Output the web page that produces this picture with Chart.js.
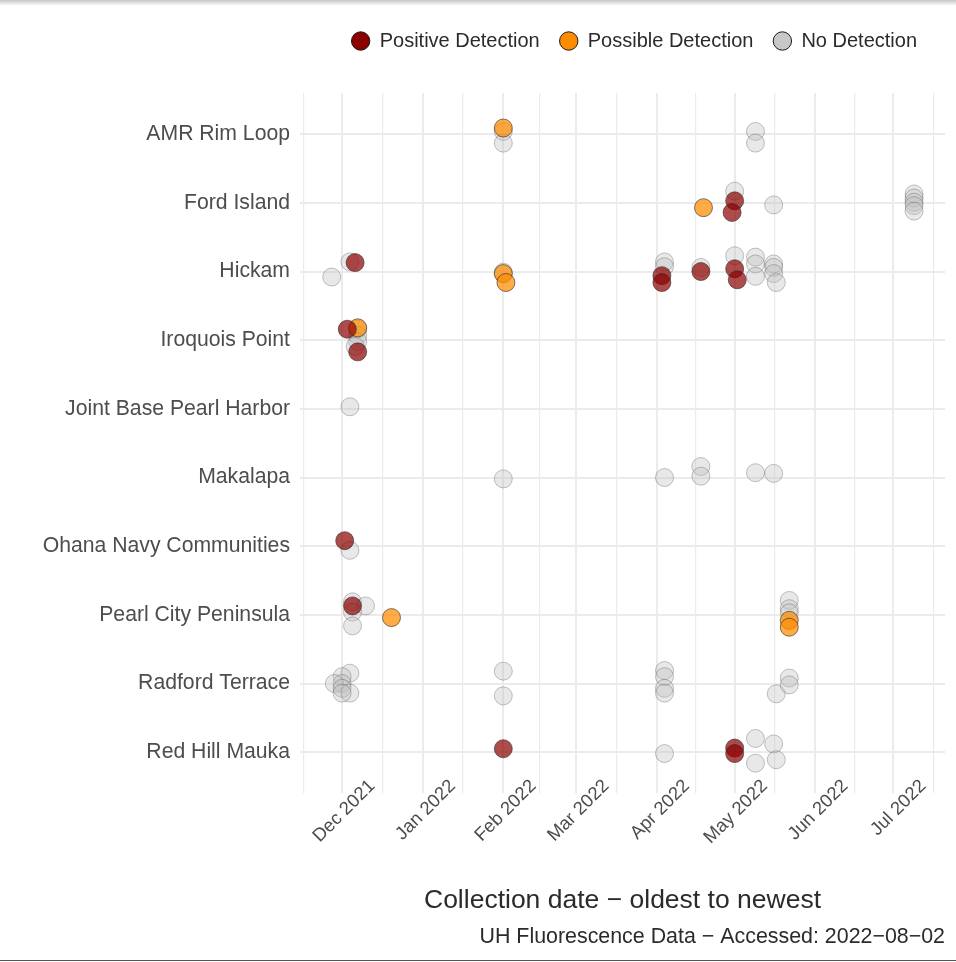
<!DOCTYPE html>
<html>
<head>
<meta charset="utf-8">
<script src="https://cdn.jsdelivr.net/npm/chart.js@4.4.0/dist/chart.umd.min.js"></script>
<style>
html, body { margin: 0; padding: 0; background: #fff; }
#wrap { position: relative; width: 956px; height: 962px; }
#shade { position: absolute; left: 0; top: 0; width: 956px; height: 6px; background: linear-gradient(rgba(0,0,0,0.22), rgba(0,0,0,0)); }
#edge { position: absolute; left: 0; top: 960px; width: 956px; height: 1px; background: #555; }
</style>
</head>
<body>
<div id="wrap">
  <canvas id="chart" width="956" height="962"></canvas>
  <div id="shade"></div>
  <div id="edge"></div>
</div>
<script>
// sites, top to bottom
var sites = ['AMR Rim Loop', 'Ford Island', 'Hickam', 'Iroquois Point', 'Joint Base Pearl Harbor',
             'Makalapa', 'Ohana Navy Communities', 'Pearl City Peninsula', 'Radford Terrace', 'Red Hill Mauka'];

// month breaks on the date axis
var monthStarts = ['2021-11-01', '2021-12-01', '2022-01-01', '2022-02-01', '2022-03-01', '2022-04-01',
                   '2022-05-01', '2022-06-01', '2022-07-01', '2022-08-01'];
var monthLabels = ['Nov 2021', 'Dec 2021', 'Jan 2022', 'Feb 2022', 'Mar 2022', 'Apr 2022',
                   'May 2022', 'Jun 2022', 'Jul 2022', 'Aug 2022'];

// samples: [collection date, site index, vertical jitter]
var positive = [
  ['2021-12-06', 2, -0.13], ['2021-12-03', 3, -0.16], ['2021-12-07', 3, 0.17],
  ['2022-04-03', 2, 0.06], ['2022-04-03', 2, 0.16], ['2022-04-18', 2, 0.0],
  ['2022-05-01', 2, -0.04], ['2022-05-02', 2, 0.12], ['2022-05-01', 1, -0.03],
  ['2022-04-30', 1, 0.14], ['2021-12-02', 6, -0.08], ['2021-12-05', 7, -0.13],
  ['2022-02-01', 9, -0.05], ['2022-05-01', 9, -0.06], ['2022-05-01', 9, 0.02]
];
var possible = [
  ['2022-02-01', 0, -0.09], ['2022-04-19', 1, 0.07], ['2022-02-01', 2, 0.03],
  ['2022-02-02', 2, 0.16], ['2021-12-07', 3, -0.18], ['2021-12-20', 7, 0.04],
  ['2022-05-22', 7, 0.08], ['2022-05-22', 7, 0.18]
];
var noDetection = [
  ['2022-02-01', 0, -0.04], ['2022-02-01', 0, 0.13], ['2022-05-09', 0, -0.04], ['2022-05-09', 0, 0.13],
  ['2022-05-01', 1, -0.17], ['2022-05-16', 1, 0.03], ['2022-07-09', 1, -0.13], ['2022-07-09', 1, -0.07],
  ['2022-07-09', 1, -0.01], ['2022-07-09', 1, 0.04], ['2022-07-09', 1, 0.12],
  ['2021-12-04', 2, -0.14], ['2021-11-27', 2, 0.08], ['2022-02-01', 2, 0.01], ['2022-04-04', 2, -0.14],
  ['2022-04-04', 2, -0.07], ['2022-04-18', 2, -0.06], ['2022-05-01', 2, -0.23], ['2022-05-09', 2, -0.21],
  ['2022-05-09', 2, -0.11], ['2022-05-09', 2, 0.07], ['2022-05-16', 2, -0.11], ['2022-05-16', 2, -0.06],
  ['2022-05-16', 2, 0.03], ['2022-05-17', 2, 0.16],
  ['2021-12-07', 3, -0.16], ['2021-12-07', 3, -0.07], ['2021-12-07', 3, 0.02], ['2021-12-06', 3, 0.09],
  ['2021-12-04', 4, -0.03],
  ['2022-02-01', 5, 0.02], ['2022-04-04', 5, 0.0], ['2022-04-18', 5, -0.16], ['2022-04-18', 5, -0.02],
  ['2022-05-09', 5, -0.07], ['2022-05-16', 5, -0.06],
  ['2021-12-04', 6, 0.06],
  ['2021-12-05', 7, -0.19], ['2021-12-10', 7, -0.13], ['2021-12-05', 7, -0.04], ['2021-12-05', 7, 0.16],
  ['2022-05-22', 7, -0.21], ['2022-05-22', 7, -0.09], ['2022-05-22', 7, -0.03],
  ['2021-12-04', 8, -0.15], ['2021-12-01', 8, -0.10], ['2021-12-01', 8, 0.0], ['2021-11-28', 8, 0.0],
  ['2021-12-01', 8, 0.07], ['2021-12-04', 8, 0.14], ['2021-12-01', 8, 0.14], ['2022-02-01', 8, -0.18],
  ['2022-02-01', 8, 0.18], ['2022-04-04', 8, -0.19], ['2022-04-04', 8, -0.10], ['2022-04-04', 8, 0.07],
  ['2022-04-04', 8, 0.14], ['2022-05-17', 8, 0.15], ['2022-05-22', 8, -0.08], ['2022-05-22', 8, 0.02],
  ['2022-04-04', 9, 0.02], ['2022-05-09', 9, -0.2], ['2022-05-09', 9, 0.16], ['2022-05-16', 9, -0.12],
  ['2022-05-17', 9, 0.11]
];

var base = Date.UTC(2021, 11, 1);
function dayOf(s) {
  var p = s.split('-');
  return (Date.UTC(+p[0], p[1] - 1, +p[2]) - base) / 86400000;
}
function toPoints(rows) {
  return rows.map(function (r) { return { x: dayOf(r[0]), y: r[1] + r[2] }; });
}

var xMin = -16.2, xMax = 231.9;
var majorDays = monthStarts.map(dayOf);
var xTicks = [];
for (var i = 0; i < majorDays.length; i++) {
  xTicks.push({ value: majorDays[i], label: monthLabels[i] });
  if (i < majorDays.length - 1) xTicks.push({ value: (majorDays[i] + majorDays[i + 1]) / 2, label: '' });
}
xTicks = xTicks.filter(function (t) { return t.value >= xMin && t.value <= xMax; });

var legendColors = ['#8B0000', '#FF8C00', '#C8C8C8'];
var LEGEND_RIGHT = 937, LEGEND_EXTRA = 32;

var legendPlace = {
  id: 'legendPlace',
  beforeInit: function (chart) {
    var lg = chart.legend, fit = lg.fit;
    lg.fit = function () { fit.call(lg); this.height += LEGEND_EXTRA; };
  },
  afterLayout: function (chart) {
    chart.legend.right = LEGEND_RIGHT;
  },
  beforeDraw: function (chart) {
    // let the rotated month labels start a little above the panel edge
    chart.scales.x._computeLabelArea = function () { return null; };
  }
};

var ctx = document.getElementById('chart').getContext('2d');
var chart = new Chart(ctx, {
  type: 'scatter',
  data: {
    datasets: [
      { label: 'Positive Detection', data: toPoints(positive),
        backgroundColor: 'rgba(139,0,0,0.7)', borderColor: 'rgba(40,40,40,0.6)' },
      { label: 'Possible Detection', data: toPoints(possible),
        backgroundColor: 'rgba(255,140,0,0.72)', borderColor: 'rgba(40,40,40,0.6)' },
      { label: 'No Detection', data: toPoints(noDetection),
        backgroundColor: 'rgba(190,190,190,0.35)', borderColor: 'rgba(60,60,60,0.3)' }
    ]
  },
  options: {
    responsive: false,
    animation: false,
    devicePixelRatio: 1,
    layout: { padding: { top: 11, right: 11, bottom: 8, left: 0 } },
    elements: { point: { radius: 9, hoverRadius: 9, borderWidth: 1 } },
    scales: {
      x: {
        type: 'linear',
        min: xMin,
        max: xMax,
        afterBuildTicks: function (scale) { scale.ticks = xTicks.map(function (t) { return { value: t.value }; }); },
        ticks: {
          autoSkip: false,
          minRotation: 45,
          maxRotation: 45,
          padding: -18,
          labelOffset: 30,
          color: '#4d4d4d',
          font: { family: 'Liberation Sans', size: 18.5 },
          callback: function (v) {
            for (var k = 0; k < xTicks.length; k++) if (xTicks[k].value === v) return xTicks[k].label;
            return '';
          }
        },
        grid: {
          color: '#ebebeb',
          drawTicks: false,
          lineWidth: function (c) { return majorDays.indexOf(c.tick.value) >= 0 ? 2 : 1.2; }
        },
        border: { display: false },
        title: {
          display: true,
          text: 'Collection date \u2212 oldest to newest',
          color: '#2b2b2b',
          font: { family: 'Liberation Sans', size: 26.5 },
          padding: { top: 54, bottom: 8 }
        }
      },
      y: {
        type: 'linear',
        reverse: true,
        min: -0.6,
        max: 9.6,
        afterBuildTicks: function (scale) { scale.ticks = sites.map(function (s, k) { return { value: k }; }); },
        afterFit: function (scale) { scale.width = 300; },
        ticks: {
          padding: 10,
          color: '#4d4d4d',
          font: { family: 'Liberation Sans', size: 21.2 },
          callback: function (v) { return sites[v]; }
        },
        grid: { color: '#ebebeb', lineWidth: 2, drawTicks: false },
        border: { display: false }
      }
    },
    plugins: {
      tooltip: { enabled: false },
      legend: {
        position: 'top',
        align: 'end',
        labels: {
          usePointStyle: true,
          pointStyle: 'circle',
          boxWidth: 18,
          boxHeight: 13,
          padding: 20,
          color: '#2b2b2b',
          font: { family: 'Liberation Sans', size: 20 },
          generateLabels: function (ch) {
            return ch.data.datasets.map(function (ds, k) {
              return { text: ds.label, fillStyle: legendColors[k], strokeStyle: '#1a1a1a', lineWidth: 1,
                       pointStyle: 'circle', datasetIndex: k, hidden: false, fontColor: '#2b2b2b' };
            });
          }
        }
      },
      title: {
        display: true,
        position: 'bottom',
        align: 'end',
        text: 'UH Fluorescence Data \u2212 Accessed: 2022\u221208\u221202',
        color: '#2b2b2b',
        font: { family: 'Liberation Sans', size: 21.4, weight: 'normal' },
        padding: { top: 0, bottom: 4 }
      }
    }
  },
  plugins: [legendPlace]
});
</script>
</body>
</html>
